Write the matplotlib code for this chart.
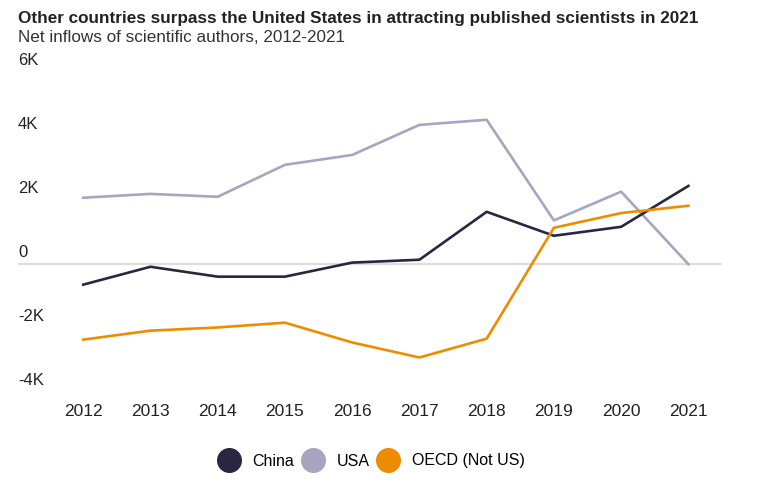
import matplotlib
matplotlib.use("Agg")
from matplotlib import pyplot as plt
from matplotlib.lines import Line2D

years = [2012, 2013, 2014, 2015, 2016, 2017, 2018, 2019, 2020, 2021]
china = [-640, -80, -390, -390, 50, 140, 1640, 890, 1170, 2450]
usa = [2080, 2200, 2110, 3110, 3420, 4360, 4520, 1370, 2270, 0]
oecd = [-2360, -2080, -1980, -1830, -2450, -2920, -2330, 1140, 1600, 1830]
yticks = [-4000, -2000, 0, 2000, 4000, 6000]
ylabels = ['-4K', '-2K', '0', '2K', '4K', '6K']

c_china = '#2a2541'
c_usa = '#a9a4c0'
c_oecd = '#ee8c00'

plt.rcParams['font.family'] = ['Liberation Sans', 'DejaVu Sans']

fig = plt.figure(figsize=(7.75, 4.82), dpi=100)
ax = fig.add_axes([18 / 775, 1 - 392 / 482, (722 - 18) / 775, (392 - 72.5) / 482])

ax.axhline(0, color='#dddddd', lw=1.5, zorder=1)
ax.plot(years, china, color=c_china, lw=1.9, zorder=3)
ax.plot(years, usa, color=c_usa, lw=1.9, zorder=2)
ax.plot(years, oecd, color=c_oecd, lw=1.9, zorder=3)

ax.set_xlim(2011.03, 2021.5)
ax.set_ylim(-4000, 6000)
for s in ax.spines.values():
    s.set_visible(False)
ax.set_yticks([])
ax.set_xticks(years)
ax.set_xticklabels([str(y) for y in years], fontsize=12.5, color='#222222')
ax.tick_params(axis='x', length=0, pad=9)

for v, lab in zip(yticks, ylabels):
    ax.annotate(lab, xy=(0, v), xycoords=('axes fraction', 'data'),
                xytext=(0, 3), textcoords='offset points',
                ha='left', va='bottom', fontsize=12, color='#222222')

fig.text(18 / 775, 1 - 18 / 482, 'Other countries surpass the United States in attracting published scientists in 2021',
         fontsize=12.3, fontweight='bold', color='#222222', ha='left', va='center')
fig.text(18 / 775, 1 - 37 / 482, 'Net inflows of scientific authors, 2012-2021',
         fontsize=12.3, color='#333333', ha='left', va='center')

handles = [Line2D([], [], marker='o', ls='', markersize=17, color=c)
           for c in (c_china, c_usa, c_oecd)]
fig.legend(handles, ['China', 'USA', 'OECD (Not US)'], loc='center',
           bbox_to_anchor=(372 / 775, 1 - 461 / 482), ncol=3, frameon=False,
           fontsize=11.5, handletextpad=0.85, columnspacing=0.6, handlelength=1.2)

fig.savefig('out.png', dpi=100)
